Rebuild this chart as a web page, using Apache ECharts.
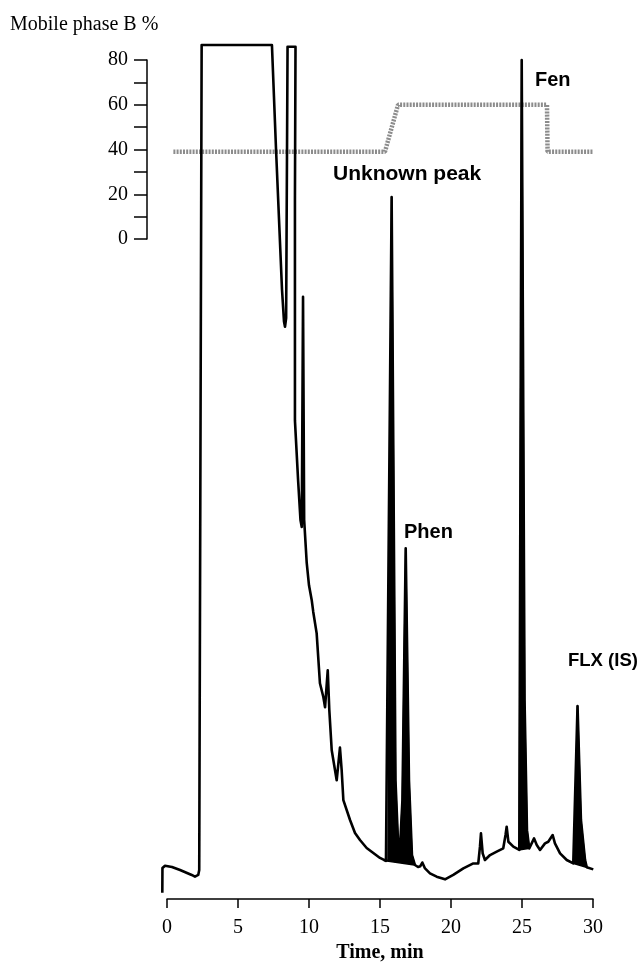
<!DOCTYPE html>
<html>
<head>
<meta charset="utf-8">
<script src="https://cdn.jsdelivr.net/npm/echarts@6/dist/echarts.min.js"></script>
<style>
html,body{margin:0;padding:0;background:#fff;}
#chart{width:639px;height:968px;}
</style>
</head>
<body>
<div id="chart"></div>
<script>
// Chromatogram trace (time in min, detector response in arbitrary units, 100 = full scale)
const traceTime = [-0.33,-0.32,-0.14,0.35,0.92,1.74,1.97,2.2,2.27,2.44,7.39,7.68,8.1,8.24,8.31,8.39,8.49,9.05,9.01,9.01,9.23,9.4,9.49,9.58,9.66,9.84,10.0,10.19,10.3,10.54,10.77,11.01,11.13,11.32,11.43,11.6,11.95,12.18,12.3,12.42,12.89,13.24,13.59,14.06,14.53,15.0,15.42,15.56,15.82,16.09,16.27,16.41,16.58,16.81,17.04,17.25,17.46,17.68,17.84,17.98,18.17,18.52,18.99,19.58,20.16,20.87,21.57,21.92,22.04,22.11,22.23,22.39,22.75,23.22,23.68,23.84,23.92,24.04,24.39,24.81,24.98,25.18,25.35,25.51,25.85,26.04,26.27,26.62,26.85,27.16,27.32,27.68,28.15,28.61,28.66,28.91,29.15,29.44,29.56,30.02];
const traceResp = [1.32,4.19,4.46,4.31,3.96,3.38,3.18,3.38,3.96,100,100,87.8,71.5,67.8,67.2,68.2,99.8,99.8,81.9,56.3,49.4,44.7,43.9,70.7,44.7,39.7,37.1,35.4,34.0,31.5,25.7,24.1,22.9,27.2,22.6,17.9,14.4,18.2,15.6,12.1,9.78,8.27,7.45,6.52,5.94,5.36,5.01,5.12,82.3,14.4,7.2,6.52,12.1,41.4,14.4,5.7,4.54,4.31,4.4,4.83,4.14,3.57,3.18,2.87,3.38,4.14,4.72,4.72,6.67,8.23,5.9,5.12,5.7,6.09,6.48,8.03,9.0,7.25,6.67,6.29,98.25,23.7,8.6,6.48,7.64,6.87,6.29,7.06,7.25,8.03,7.06,5.9,5.12,4.72,4.8,23.05,9.78,5.12,4.27,4.03];

// Filled (integrated) peak windows [start, end] in min
const peakStart = [15.42, 24.81, 28.61];
const peakEnd   = [17.46, 25.51, 29.56];

// Mobile phase gradient (time in min, B %)
const gradTime = [0.45, 15.35, 16.27, 26.76, 26.8, 30.0];
const gradB    = [39, 39, 60, 60, 39, 39];

// Peak labels and axis titles
const peakNames = ['Unknown peak', 'Phen', 'Fen', 'FLX (IS)'];
const gradAxisTitle = 'Mobile phase B %';
const timeAxisTitle = 'Time, min';

const traceData = traceTime.map((t, i) => [t, traceResp[i]]);
const gradData = gradTime.map((t, i) => [t, gradB[i]]);
const peakData = peakStart.map((s, i) => [s, peakEnd[i]]);

const chart = echarts.init(document.getElementById('chart'), null, {renderer: 'canvas'});
const serif = '"Liberation Serif", "Times New Roman", serif';
const sans = '"Liberation Sans", Arial, sans-serif';
// hidden time axes start left of 0 so that the B% axis sits 20px left of the time origin
const hiddenMin = -1.408;

chart.setOption({
  animation: false,
  backgroundColor: '#ffffff',
  grid: [
    {left: 167, right: 46, top: 45, bottom: 64},
    {left: 147, right: 46, top: 45, bottom: 64},
    {left: 147, right: 46, top: 60, height: 179}
  ],
  xAxis: [
    {
      gridIndex: 0, type: 'value', min: 0, max: 30, interval: 5,
      name: timeAxisTitle, nameLocation: 'middle', nameGap: 40,
      nameTextStyle: {fontFamily: serif, fontWeight: 'bold', fontSize: 20, color: '#000'},
      axisLine: {lineStyle: {color: '#000', width: 1.5}},
      axisTick: {length: 9, lineStyle: {color: '#000', width: 1.5}},
      axisLabel: {fontFamily: serif, fontSize: 20, color: '#000', margin: 19},
      splitLine: {show: false}
    },
    {gridIndex: 1, type: 'value', min: hiddenMin, max: 30, show: false},
    {gridIndex: 2, type: 'value', min: hiddenMin, max: 30, show: false}
  ],
  yAxis: [
    {gridIndex: 0, type: 'value', min: 0, max: 100, show: false},
    {gridIndex: 1, type: 'value', min: 0, max: 100, show: false},
    {
      gridIndex: 2, type: 'value', min: 0, max: 80, interval: 10,
      axisLine: {show: true, onZero: false, lineStyle: {color: '#000', width: 1.5}},
      axisTick: {show: true, length: 13, lineStyle: {color: '#000', width: 1.5}},
      axisLabel: {fontFamily: serif, fontSize: 20, color: '#000', margin: 19,
        formatter: v => (v % 20 === 0 ? String(v) : '')},
      splitLine: {show: false}
    }
  ],
  graphic: [
    {type: 'text', left: 10, top: 15, style: {text: gradAxisTitle, font: '20px ' + serif, fill: '#000'}},
    {type: 'text', left: 333, top: 164, style: {text: peakNames[0], font: 'bold 21px ' + sans, fill: '#000'}},
    {type: 'text', left: 404, top: 522, style: {text: peakNames[1], font: 'bold 20px ' + sans, fill: '#000'}},
    {type: 'text', left: 535, top: 70, style: {text: peakNames[2], font: 'bold 20px ' + sans, fill: '#000'}},
    {type: 'text', left: 568, top: 651, style: {text: peakNames[3], font: 'bold 18.5px ' + sans, fill: '#000'}}
  ],
  series: [
    {
      type: 'line', xAxisIndex: 2, yAxisIndex: 2, data: gradData,
      showSymbol: false, z: 1,
      lineStyle: {color: '#8c8c8c', width: 4.5, type: [2, 1.2]}
    },
    {
      type: 'custom', xAxisIndex: 1, yAxisIndex: 1, data: peakData, z: 2,
      encode: {x: [0, 1]},
      renderItem: function (params, api) {
        const s = api.value(0), e = api.value(1);
        const pts = [];
        for (let i = 0; i < traceTime.length; i++) {
          if (traceTime[i] >= s - 1e-9 && traceTime[i] <= e + 1e-9) {
            pts.push(api.coord([traceTime[i], traceResp[i]]));
          }
        }
        return {type: 'polygon', shape: {points: pts}, style: {fill: '#000', stroke: '#000', lineWidth: 1.5}};
      }
    },
    {
      type: 'line', xAxisIndex: 1, yAxisIndex: 1, data: traceData,
      showSymbol: false, z: 3, clip: false,
      lineStyle: {color: '#000', width: 2.6, join: 'round'}
    }
  ]
});
</script>
</body>
</html>
